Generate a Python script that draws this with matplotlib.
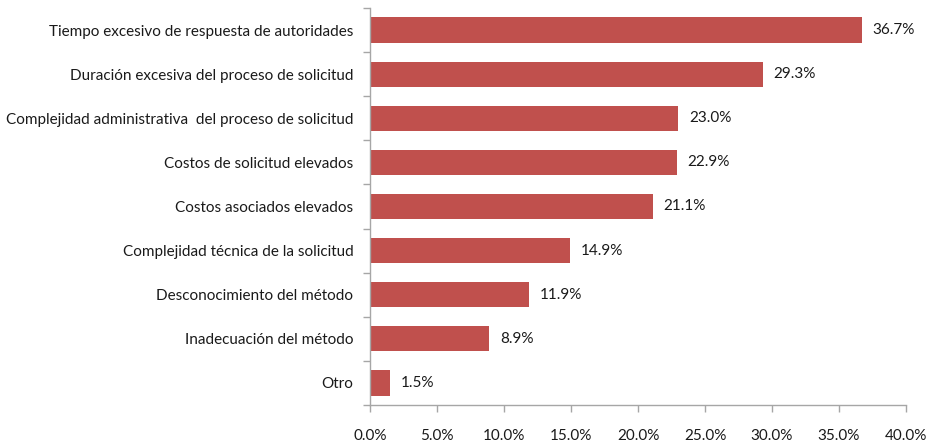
import matplotlib
matplotlib.use("Agg")
import matplotlib.pyplot as plt
from matplotlib.ticker import FixedLocator, FuncFormatter

categories = [
    "Tiempo excesivo de respuesta de autoridades",
    "Duración excesiva del proceso de solicitud",
    "Complejidad administrativa  del proceso de solicitud",
    "Costos de solicitud elevados",
    "Costos asociados elevados",
    "Complejidad técnica de la solicitud",
    "Desconocimiento del método",
    "Inadecuación del método",
    "Otro",
]
values = [36.7, 29.3, 23.0, 22.9, 21.1, 14.9, 11.9, 8.9, 1.5]
x_ticks = [0, 5, 10, 15, 20, 25, 30, 35, 40]

plt.rcParams["font.family"] = ["Lato", "DejaVu Sans"]

fig = plt.figure(figsize=(9.33, 4.43), dpi=100)
ax = fig.add_axes([370 / 933, 38 / 443, 536 / 933, 397 / 443])

n = len(categories)
pos = list(range(n - 1, -1, -1))
ax.barh(pos, values, height=0.57, color="#C0504D")

# value labels right of each bar
for p, v in zip(pos, values):
    ax.text(v + 0.8, p, f"{v:.1f}%", va="center", ha="left", fontsize=11, color="#1a1a1a")

ax.set_xlim(0, 40)
ax.set_ylim(-0.5, n - 0.5)
ax.set_xticks(x_ticks)
ax.xaxis.set_major_formatter(FuncFormatter(lambda x, _: f"{x:.1f}%"))
ax.set_yticks(pos)
ax.set_yticklabels(categories)
ax.yaxis.set_minor_locator(FixedLocator([i - 0.5 for i in range(n + 1)]))
ax.tick_params(axis="y", which="major", length=0, pad=12, labelsize=11, labelcolor="#1a1a1a")
ax.tick_params(axis="y", which="minor", length=5, color="#A6A6A6", width=1)
ax.tick_params(axis="x", length=5, color="#A6A6A6", width=1, pad=12, labelsize=11, labelcolor="#1a1a1a")

for s in ["top", "right"]:
    ax.spines[s].set_visible(False)
for s in ["left", "bottom"]:
    ax.spines[s].set_color("#A6A6A6")
    ax.spines[s].set_linewidth(1)

fig.savefig("out.png", dpi=100)
